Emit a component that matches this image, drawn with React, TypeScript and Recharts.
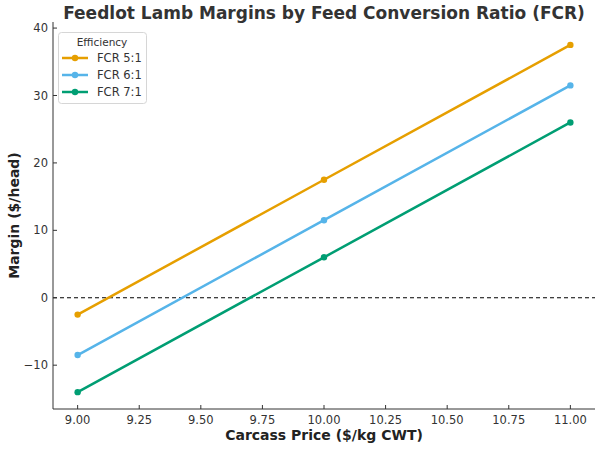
import React from 'react';
import {
  LineChart,
  Line,
  XAxis,
  YAxis,
  ReferenceLine,
} from 'recharts';

const prices = [9.0, 10.0, 11.0];
const fcr5 = [-2.5, 17.5, 37.5];
const fcr6 = [-8.5, 11.5, 31.5];
const fcr7 = [-14.0, 6.0, 26.0];

const xTicks = [9.0, 9.25, 9.5, 9.75, 10.0, 10.25, 10.5, 10.75, 11.0];
const yTicks = [-10, 0, 10, 20, 30, 40];

const seriesInfo = [
  { key: 'fcr5', name: 'FCR 5:1', color: '#E69F00' },
  { key: 'fcr6', name: 'FCR 6:1', color: '#56B4E9' },
  { key: 'fcr7', name: 'FCR 7:1', color: '#009E73' },
];

const data = prices.map((p, i) => ({
  price: p,
  fcr5: fcr5[i],
  fcr6: fcr6[i],
  fcr7: fcr7[i],
}));

const font = '"DejaVu Sans", sans-serif';
const tickStyle = { fill: '#333', fontSize: 11.5, fontFamily: font };

// legend box drawn by hand, like matplotlib's upper-left legend
function EfficiencyLegend() {
  return (
    <svg
      width={100}
      height={80}
      style={{ position: 'absolute', left: 50, top: 26 }}
      fontFamily={font}
    >
      <rect x={8.5} y={6.5} width={88} height={71} rx={3} fill="rgba(255,255,255,0.85)" stroke="#d6d6d6" />
      <text x={52} y={20} textAnchor="middle" fontSize={10.5} fill="#333">
        Efficiency
      </text>
      {seriesInfo.map((s, i) => {
        const cy = 32 + i * 17;
        return (
          <g key={s.key}>
            <line x1={12} y1={cy} x2={38} y2={cy} stroke={s.color} strokeWidth={2.5} />
            <circle cx={25} cy={cy} r={3.2} fill={s.color} />
            <text x={47} y={cy + 4} fontSize={11.5} fill="#333">
              {s.name}
            </text>
          </g>
        );
      })}
    </svg>
  );
}

export default function App() {
  return (
    <div style={{ position: 'absolute', left: 0, top: 0, width: 602, height: 449, background: '#fff' }}>
      <div
        style={{
          position: 'absolute',
          left: 53,
          width: 542,
          top: 3,
          textAlign: 'center',
          fontFamily: font,
          fontWeight: 'bold',
          fontSize: 17,
          color: '#333',
        }}
      >
        Feedlot Lamb Margins by Feed Conversion Ratio (FCR)
      </div>
      <LineChart
        width={602}
        height={449}
        data={data}
        margin={{ top: 22, right: 7, left: 0, bottom: 0 }}
      >
        {/* negative tickSize = ticks pointing into the plot, as in the original */}
        <XAxis
          dataKey="price"
          type="number"
          domain={[8.9, 11.1]}
          ticks={xTicks}
          allowDataOverflow
          tickFormatter={(v: number) => v.toFixed(2)}
          tick={tickStyle}
          tickSize={-4}
          tickMargin={11}
          stroke="#333"
          height={40}
          label={{
            value: 'Carcass Price ($/kg CWT)',
            position: 'insideBottom',
            offset: 9,
            style: { fontFamily: font, fontWeight: 'bold', fontSize: 14, fill: '#222' },
          }}
        />
        <YAxis
          type="number"
          domain={[-16.5, 40.9]}
          ticks={yTicks}
          allowDataOverflow
          tickFormatter={(v: number) => (v < 0 ? `\u2212${Math.abs(v)}` : `${v}`)}
          tick={tickStyle}
          tickSize={-4}
          tickMargin={9}
          stroke="#333"
          width={53}
          label={{
            value: 'Margin ($/head)',
            angle: -90,
            position: 'insideLeft',
            offset: 14,
            style: { textAnchor: 'middle', fontFamily: font, fontWeight: 'bold', fontSize: 14, fill: '#222' },
          }}
        />
        <ReferenceLine y={0} stroke="#000" strokeDasharray="4 3" strokeWidth={1} />
        {seriesInfo.map((s) => (
          <Line
            key={s.key}
            dataKey={s.key}
            name={s.name}
            stroke={s.color}
            strokeWidth={2.5}
            dot={{ r: 3.2, fill: s.color, stroke: s.color, strokeWidth: 0 }}
            isAnimationActive={false}
          />
        ))}
      </LineChart>
      <EfficiencyLegend />
    </div>
  );
}
